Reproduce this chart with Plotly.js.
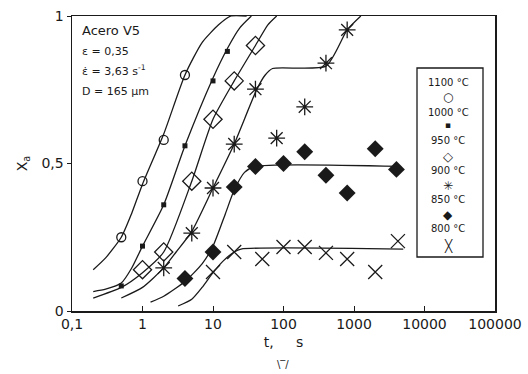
<!DOCTYPE html>
<html><head><meta charset="utf-8">
<script src="https://cdn.plot.ly/plotly-3.0.1.min.js"></script>
<style>html,body{margin:0;padding:0;background:#fff}#chart{width:528px;height:374px}</style>
</head><body><div id="chart"></div>
<script>
// measured points (t in s, Xa)
const t1100 = [0.5, 1, 2, 4];
const x1100 = [0.25, 0.44, 0.58, 0.80];
const t1000 = [0.5, 1, 2, 4, 10, 16];
const x1000 = [0.085, 0.22, 0.36, 0.56, 0.78, 0.88];
const t950 = [1, 2, 5, 10, 20, 40];
const x950 = [0.14, 0.20, 0.44, 0.65, 0.78, 0.90];
const t900 = [2, 5, 10, 20, 40, 80, 200, 400, 800];
const x900 = [0.146, 0.264, 0.417, 0.566, 0.752, 0.586, 0.692, 0.84, 0.953];
const t850 = [4, 10, 20, 40, 100, 200, 400, 800, 2000, 4000];
const x850 = [0.11, 0.20, 0.42, 0.49, 0.50, 0.54, 0.46, 0.40, 0.55, 0.48];
const t800 = [10, 20, 50, 100, 200, 400, 800, 2000, 4200];
const x800 = [0.132, 0.20, 0.176, 0.217, 0.217, 0.197, 0.176, 0.132, 0.237];

// fitted curves
const c1100t = [0.2, 0.3, 0.5, 0.7, 1, 2, 4, 7, 12, 18, 30];
const c1100x = [0.14, 0.18, 0.25, 0.33, 0.43, 0.60, 0.80, 0.91, 0.97, 1.0, 1.0];
const c1000t = [0.2, 0.3, 0.5, 0.7, 1, 2, 4, 10, 16, 24, 35];
const c1000x = [0.066, 0.074, 0.095, 0.145, 0.22, 0.36, 0.56, 0.79, 0.89, 0.96, 1.0];
const c950t = [0.2, 0.5, 1, 2, 5, 10, 20, 40, 60, 80];
const c950x = [0.044, 0.08, 0.13, 0.2, 0.44, 0.65, 0.78, 0.9, 0.97, 1.0];
const c900t = [0.5, 1, 2, 3, 5, 10, 20, 42, 55, 70, 400, 800, 1250];
const c900x = [0.044, 0.08, 0.146, 0.2, 0.27, 0.417, 0.566, 0.752, 0.80, 0.822, 0.83, 0.953, 1.0];
const c850t = [1.3, 2, 4, 7, 10, 15, 20, 28, 40, 4500];
const c850x = [0.03, 0.05, 0.10, 0.16, 0.22, 0.33, 0.41, 0.47, 0.49, 0.49];
const c800t = [3.2, 5, 7, 10, 14, 20, 25, 5000];
const c800x = [0.017, 0.04, 0.08, 0.13, 0.17, 0.20, 0.21, 0.21];

const xTicks = [0.1, 1, 10, 100, 1000, 10000, 100000];
const xTickText = ['0,1', '1', '10', '100', '1000', '10000', '100000'];
const yTicks = [0, 0.5, 1];
const yTickText = ['0', '0,5', '1'];
const legendLabels = ['1100 °C', '1000 °C', '950 °C', '900 °C', '850 °C', '800 °C'];
const legendGlyphs = ['○', '▪', '◇', '✳', '◆', '╳'];

// minor ticks at 2..9 within each decade of the log axis, and every 0.05 on y
const xMinor = [];
for (let d = -1; d < 5; d++) for (let m = 2; m <= 9; m++) xMinor.push(m * Math.pow(10, d));
const yMinor = [];
for (let k = 1; k < 20; k++) if (k !== 10) yMinor.push(k / 20);

const ink = '#1a1a1a';
const curve = (t, x) => ({x: t, y: x, mode: 'lines', type: 'scatter', hoverinfo: 'skip',
  line: {color: ink, width: 1.3, shape: 'spline', smoothing: 0.6}, showlegend: false});
const pts = (t, x, marker) => ({x: t, y: x, mode: 'markers', type: 'scatter', showlegend: false, marker: marker});

const data = [
  curve(c1100t, c1100x), curve(c1000t, c1000x), curve(c950t, c950x),
  curve(c900t, c900x), curve(c850t, c850x), curve(c800t, c800x),
  pts(t1100, x1100, {symbol: 'circle-open', size: 9, color: ink, line: {width: 1.3, color: ink}}),
  pts(t1000, x1000, {symbol: 'square', size: 5, color: ink}),
  pts(t950, x950, {symbol: 'diamond-open', size: 14, color: ink, line: {width: 1.3, color: ink}}),
  pts(t900, x900, {symbol: 'asterisk-open', size: 14, color: ink, line: {width: 1.3, color: ink}}),
  pts(t850, x850, {symbol: 'diamond', size: 13, color: ink}),
  pts(t800, x800, {symbol: 'x-thin-open', size: 14, color: ink, line: {width: 1.3, color: ink}})
];

const W = 423, H = 295, L = 72, T = 16;
const px = v => (v - L) / W;
const py = v => (T + H - v) / H;

const annotations = [
  {text: 'Acero V5', x: px(80), y: py(31), xanchor: 'left', font: {size: 13}},
  {text: 'ε = 0,35', x: px(80), y: py(52), xanchor: 'left', font: {size: 11}},
  {text: 'ε̇ = 3,63 s<sup>-1</sup>', x: px(80), y: py(71), xanchor: 'left', font: {size: 11}},
  {text: 'D = 165 μm', x: px(80), y: py(91), xanchor: 'left', font: {size: 11}},
  {text: '\\‾/', x: px(283), y: py(364), xanchor: 'center', font: {size: 10}}
];
const labelY = [82, 112, 140, 170, 200, 229];
const glyphY = [97, 125, 156, 186, 215, 245];
const glyphSize = [12, 9, 13, 12, 12, 12];
legendLabels.forEach((s, i) => {
  annotations.push({text: s, x: px(448), y: py(labelY[i]), xanchor: 'center', font: {size: 10}});
  annotations.push({text: legendGlyphs[i], x: px(448), y: py(glyphY[i]), xanchor: 'center', font: {size: glyphSize[i]}});
});
annotations.forEach(a => { a.xref = 'paper'; a.yref = 'paper'; a.showarrow = false; a.yanchor = 'middle';
  a.font = Object.assign({family: 'DejaVu Sans, sans-serif', color: ink}, a.font); });

const layout = {
  width: 528, height: 374,
  margin: {l: 72, r: 33, t: 16, b: 63},
  paper_bgcolor: '#fff', plot_bgcolor: '#fff',
  font: {family: 'DejaVu Sans, sans-serif', size: 14, color: ink},
  showlegend: false,
  xaxis: {type: 'log', range: [-1, 5], tickmode: 'array', tickvals: xTicks, ticktext: xTickText,
    ticks: 'inside', ticklen: 5, tickcolor: ink, showgrid: false, zeroline: false,
    showline: true, linecolor: ink, linewidth: 1.5, mirror: true,
    title: {text: 't,&nbsp;&nbsp;&nbsp;&nbsp;&nbsp;s', font: {size: 14}, standoff: 6}},
  yaxis: {range: [0, 1], tickmode: 'array', tickvals: yTicks, ticktext: yTickText,
    ticks: 'outside', ticklen: 4, tickcolor: ink, showgrid: false, zeroline: false,
    showline: true, linecolor: ink, linewidth: 1.5, mirror: true,
    title: {text: 'X<sub>a</sub>', font: {size: 14}, standoff: 10}},
  // overlay axes carrying only the short minor ticks
  xaxis2: {type: 'log', range: [-1, 5], overlaying: 'x', anchor: 'y', side: 'bottom',
    tickmode: 'array', tickvals: xMinor, ticks: 'inside', ticklen: 3, tickcolor: ink, tickwidth: 1,
    showticklabels: false, showgrid: false, zeroline: false, showline: false},
  yaxis2: {range: [0, 1], overlaying: 'y', anchor: 'x', side: 'left',
    tickmode: 'array', tickvals: yMinor, ticks: 'inside', ticklen: 3, tickcolor: ink, tickwidth: 1,
    showticklabels: false, showgrid: false, zeroline: false, showline: false},
  shapes: [{type: 'rect', xref: 'paper', yref: 'paper', x0: px(417), x1: px(483), y0: py(257), y1: py(68),
    line: {color: ink, width: 1.3}, fillcolor: 'rgba(0,0,0,0)'}],
  annotations: annotations
};
Plotly.newPlot('chart', data, layout, {staticPlot: true});
</script></body></html>
